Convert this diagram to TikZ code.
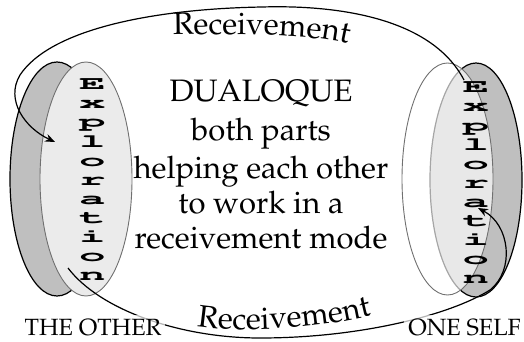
\documentclass[tikz,border=0pt]{standalone}
\usepackage[T1]{fontenc}
\usepackage{mathpazo}
\usepackage{courier}
\usepackage{graphicx}
\usetikzlibrary{arrows.meta,decorations.text}
\definecolor{darkfill}{HTML}{BFBFBF}
\definecolor{lightfill}{HTML}{EBEBEB}
\definecolor{rimgray}{HTML}{707070}
\begin{document}
\begin{tikzpicture}[x=1pt,y=1pt,
  backshell/.style={fill=darkfill,draw=black,line width=1.2pt},
  frontshellL/.style={fill=lightfill,draw=rimgray,line width=0.9pt},
  frontshellR/.style={fill=white,fill opacity=0.65,draw=rimgray,draw opacity=1,line width=0.9pt},
  explore/.style={font=\fontsize{17}{17}\selectfont\ttfamily\bfseries,inner sep=0pt,anchor=base},
  maintext/.style={font=\fontsize{31}{36}\selectfont,inner sep=0pt,anchor=base},
  sidelabel/.style={font=\fontsize{23.5}{24}\selectfont,anchor=base,fill=white,fill opacity=0.7,text opacity=1,inner sep=4pt},
  link/.style={draw=black,line width=1.2pt},
  linkarrow/.style={link,-{Stealth[length=10pt,width=8pt]}}
]
\useasboundingbox (0,0) rectangle (524,-342);
% shells
\path[backshell] (57,-179) ellipse [x radius=47,y radius=117];
\path[frontshellL] (86,-179) ellipse [x radius=46,y radius=117];
\path[backshell] (476,-180) ellipse [x radius=46,y radius=117];
\path[frontshellR] (447.5,-179) ellipse [x radius=45.5,y radius=116];
% exploration letters
\foreach \lt [count=\i] in {E,x,p,l,o,r,a,t,i,o,n} {
  \node[explore] (left\i) at (92.5,{-90-19*(\i-1)}) {\scalebox{2.6}[1.1]{\lt}};
  \node[explore] (right\i) at (476,{-93-19*(\i-1)}) {\scalebox{2.6}[1.1]{\lt}};
}
% connectors
\coordinate (topstart) at (464,-80);
\coordinate (topend) at (55,-142);
\draw[linkarrow] (topstart) .. controls (430,-15) and (330,-5) .. (262,-7)
  .. controls (150,-9) and (50,-30) .. (20,-75)
  .. controls (5,-100) and (25,-128) .. (topend);
\coordinate (botstart) at (68,-268);
\coordinate (botend) at (478,-208);
\draw[linkarrow] (botstart) .. controls (100,-310) and (180,-338) .. (260,-338)
  .. controls (360,-338) and (450,-315) .. (490,-290)
  .. controls (515,-270) and (510,-225) .. (botend);
% labels
\node[sidelabel] (other) at (93,-335) {THE OTHER};
\node[sidelabel] (self) at (464.5,-335.5) {ONE SELF};
\node[maintext] (dualoque) at (261,-102) {DUALOQUE};
\node[maintext] (both) at (261,-140) {both parts};
\node[maintext] (helping) at (261,-178) {helping each other};
\node[maintext] (towork) at (261,-213) {to work in a};
\node[maintext] (mode) at (261,-248) {receivement mode};
\path[decorate,decoration={text along path,text={|\fontsize{31}{31}\selectfont|Receivement},text align=left}]
  (173,-35) .. controls (250,-34) and (310,-33) .. (358,-46);
\path[decorate,decoration={text along path,text={|\fontsize{31}{31}\selectfont|Receivement},text align=left}]
  (197,-326) .. controls (230,-333) and (320,-330) .. (380,-313);
\end{tikzpicture}
\end{document}
